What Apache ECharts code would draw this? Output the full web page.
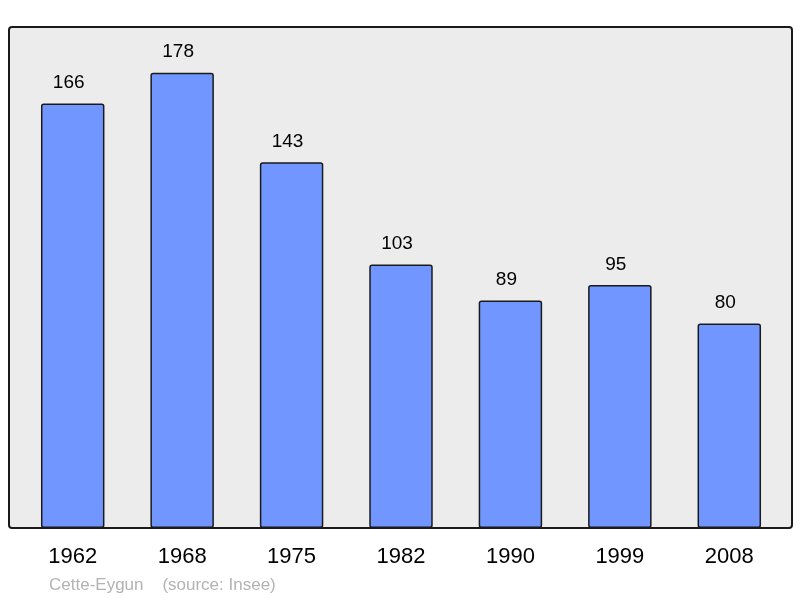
<!DOCTYPE html>
<html>
<head>
<meta charset="utf-8">
<script src="https://cdn.jsdelivr.net/npm/echarts@6/dist/echarts.min.js"></script>
<style>
html, body { margin: 0; padding: 0; background: #fff; }
#main { width: 800px; height: 598px; }
</style>
</head>
<body>
<div id="main"></div>
<script>
// années et population
var years = ['1962', '1968', '1975', '1982', '1990', '1999', '2008'];
var population = [166, 178, 143, 103, 89, 95, 80];

var chart = echarts.init(document.getElementById('main'));

var option = {
    backgroundColor: '#ffffff',
    animation: false,
    graphic: [
        {
            // cadre gris du graphique
            type: 'rect',
            z: -10,
            shape: { x: 9, y: 27, width: 783, height: 501, r: 3 },
            style: { fill: '#ececec', stroke: '#1a1a1a', lineWidth: 2 }
        },
        {
            type: 'text',
            left: 49,
            top: 577,
            style: {
                text: 'Cette-Eygun    (source: Insee)',
                fill: '#b3b3b3',
                font: '17px "Liberation Sans", Arial, sans-serif'
            }
        }
    ],
    grid: {
        left: 18,
        right: 16,
        top: 28,
        bottom: 70
    },
    xAxis: {
        type: 'category',
        data: years,
        axisLine: { show: false },
        axisTick: { show: false },
        axisLabel: {
            color: '#000',
            fontSize: 22,
            margin: 18,
            fontFamily: '"Liberation Sans", Arial, sans-serif'
        }
    },
    yAxis: {
        type: 'value',
        min: 0,
        max: 195.5,
        show: false,
        splitLine: { show: false }
    },
    series: [
        {
            name: 'population',
            type: 'bar',
            data: population,
            barCategoryGap: '42%',
            itemStyle: {
                color: '#7196ff',
                borderColor: '#1a1a1a',
                borderWidth: 1.5,
                borderRadius: 2
            },
            label: {
                show: true,
                position: 'top',
                distance: 11,
                offset: [-4, 0],
                color: '#000',
                fontSize: 19,
                fontFamily: '"Liberation Sans", Arial, sans-serif'
            }
        }
    ]
};

chart.setOption(option);
</script>
</body>
</html>
